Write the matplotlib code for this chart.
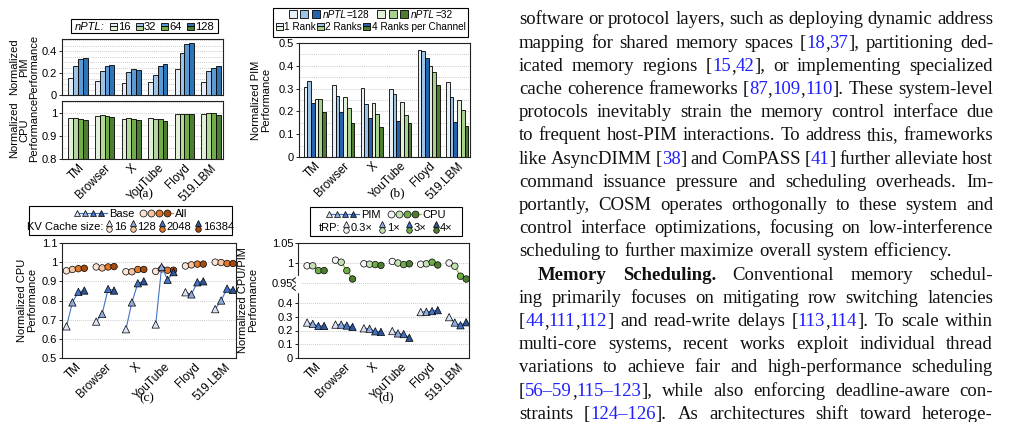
import matplotlib
matplotlib.use('Agg')
import matplotlib.pyplot as plt
import numpy as np
from matplotlib.patches import Rectangle
from matplotlib.lines import Line2D
from matplotlib.transforms import IdentityTransform
from matplotlib.ticker import FormatStrFormatter, MultipleLocator

W, H = 1027, 422
plt.rcParams['font.family'] = ['Liberation Sans', 'DejaVu Sans']
plt.rcParams['font.size'] = 8

# ---------------- data ----------------
workloads = ['TM', 'Browser', 'X', 'YouTube', 'Floyd', '519.LBM']
nptl_levels = ['16', '32', '64', '128']
# (a) PIM / CPU performance per nPTL
pim_nptl = [[0.157, 0.26, 0.33, 0.34],
            [0.126, 0.218, 0.26, 0.277],
            [0.108, 0.21, 0.234, 0.23],
            [0.117, 0.185, 0.26, 0.28],
            [0.234, 0.378, 0.46, 0.474],
            [0.117, 0.215, 0.25, 0.265]]
cpu_nptl = [[0.977, 0.98, 0.973, 0.97],
            [0.986, 0.99, 0.986, 0.983],
            [0.976, 0.977, 0.974, 0.97],
            [0.98, 0.976, 0.974, 0.964],
            [0.997, 0.997, 0.997, 0.997],
            [0.998, 1.0, 0.999, 0.994]]
# (b) PIM performance: nPTL=128 (1,2,4 ranks), nPTL=32 (1,2,4 ranks)
ranks = ['1 Rank', '2 Ranks', '4 Ranks per Channel']
pim_ranks = [[0.309, 0.335, 0.235, 0.253, 0.256, 0.199],
             [0.316, 0.269, 0.196, 0.262, 0.213, 0.151],
             [0.301, 0.232, 0.172, 0.238, 0.188, 0.132],
             [0.297, 0.275, 0.157, 0.243, 0.184, 0.149],
             [0.470, 0.463, 0.434, 0.401, 0.372, 0.316],
             [0.331, 0.262, 0.154, 0.249, 0.206, 0.137]]
# (c) CPU performance vs KV cache size
kv_sizes = ['16', '128', '2048', '16384']
cpu_base = [[0.665, 0.79, 0.845, 0.852],
            [0.69, 0.73, 0.86, 0.852],
            [0.65, 0.79, 0.89, 0.9],
            [0.675, 0.975, 0.908, 0.948],
            [0.843, 0.832, 0.895, 0.9],
            [0.755, 0.80, 0.862, 0.855]]
cpu_all = [[0.955, 0.962, 0.966, 0.968],
           [0.975, 0.97, 0.975, 0.977],
           [0.95, 0.95, 0.962, 0.962],
           [0.952, 0.965, 0.958, 0.958],
           [0.98, 0.986, 0.99, 0.99],
           [1.0, 0.998, 0.993, 0.993]]
# (d) CPU / PIM performance vs tRP
trp_levels = ['0.3\u00d7', '1\u00d7', '3\u00d7', '4\u00d7']
cpu_trp = [[0.993, 0.993, 0.981, 0.981],
           [1.007, 1.002, 0.981, 0.96],
           [0.998, 0.997, 0.996, 0.994],
           [1.004, 1.0, 0.996, 0.998],
           [0.997, 0.998, 1.002, 0.995],
           [1.0, 0.992, 0.967, 0.96]]
pim_trp = [[0.258, 0.248, 0.233, 0.233],
           [0.243, 0.243, 0.236, 0.226],
           [0.216, 0.213, 0.194, 0.19],
           [0.196, 0.179, 0.174, 0.147],
           [0.334, 0.336, 0.341, 0.348],
           [0.297, 0.258, 0.238, 0.26]]

# colours
blue4 = ['#e4edf7', '#9dc3e6', '#5b9bd5', '#2e75b6']
green4 = ['#e2f0d9', '#b4d79a', '#70ad47', '#4e7d31']
blue3 = ['#e8f0f8', '#9dc3e6', '#2563ad']
green3 = ['#e2f0d9', '#a9d18e', '#4e7d31']
tri_c = ['#dae3f3', '#8faadc', '#4472c4', '#2f5597']
orange_c = ['#fbe5d6', '#f8c4a0', '#e0782c', '#a64b0f']
cgreen_c = ['#f4f4f4', '#c5e0b4', '#70ad47', '#4e7d31']

fig = plt.figure(figsize=(W / 100, H / 100), dpi=100)
ID = IdentityTransform()
renderer = fig.canvas.get_renderer()
TICK_FS = 8
XTICK_FS = 8.5
LAB_FS = 8
LEG_FS = 8


def ax_px(x0, y0, x1, y1):
    return fig.add_axes([x0 / W, 1 - y1 / H, (x1 - x0) / W, (y1 - y0) / H])


def style(ax, step=None):
    for s in ax.spines.values():
        s.set_linewidth(0.8)
        s.set_color('#222222')
    ax.tick_params(axis='y', length=2, width=0.6, pad=1.5, labelsize=TICK_FS)
    ax.tick_params(axis='x', length=0, pad=2, labelsize=XTICK_FS)
    ax.yaxis.set_major_formatter(FormatStrFormatter('%g'))
    if step:
        ax.yaxis.set_minor_locator(MultipleLocator(step))
        ax.tick_params(axis='y', which='minor', length=0)
    ax.grid(axis='y', which='both', color='#b8b8b8', lw=0.6, ls=(0, (1, 1.5)))
    ax.set_axisbelow(True)


def xlabels(ax, show=True):
    ax.set_xticks(np.arange(len(workloads)))
    if show:
        ax.set_xticklabels(workloads, rotation=45, ha='right', rotation_mode='anchor')
    else:
        ax.set_xticklabels([])


def ylab(x, y, s, ls=1.05):
    fig.text(x / W, 1 - y / H, s, rotation=90, ha='center', va='center',
             fontsize=LAB_FS, linespacing=ls, multialignment='center')


def grouped_bars(ax, vals, colors, width):
    vals = np.array(vals)
    n = vals.shape[1]
    x = np.arange(vals.shape[0])
    for j in range(n):
        ax.bar(x + (j - (n - 1) / 2) * width, vals[:, j], width, color=colors[j],
               edgecolor='black', linewidth=0.6, zorder=2)


# ---------------- (a) ----------------
ax_a1 = ax_px(62, 39, 223, 95)
grouped_bars(ax_a1, pim_nptl, blue4, 0.18)
ax_a1.set_ylim(0, 0.51)
ax_a1.set_yticks([0, 0.2, 0.4])
style(ax_a1, 0.05)
xlabels(ax_a1, False)
ax_a1.set_xlim(-0.6, 5.45)

ax_a2 = ax_px(62, 101, 223, 159)
grouped_bars(ax_a2, cpu_nptl, green4, 0.18)
ax_a2.set_ylim(0.8, 1.053)
ax_a2.set_yticks([0.8, 0.9, 1.0])
style(ax_a2, 0.05)
xlabels(ax_a2)
ax_a2.set_xlim(-0.6, 5.45)
ylab(24, 67, 'Normalized\nPIM\nPerformance', 1.0)
ylab(24, 130, 'Normalized\nCPU\nPerformance', 1.0)

# ---------------- (b) ----------------
ax_b = ax_px(299, 43, 470, 157)
grouped_bars(ax_b, pim_ranks, blue3 + green3, 0.13)
ax_b.set_ylim(0, 0.5)
ax_b.set_yticks(np.arange(0, 0.51, 0.1))
style(ax_b, 0.05)
xlabels(ax_b)
ax_b.set_xlim(-0.55, 5.45)
ylab(261, 100, 'Normalized PIM\nPerformance')

# ---------------- (c) ----------------
ax_c = ax_px(62, 243, 236, 358)
offs = np.array([-0.3, -0.1, 0.1, 0.3])
for i in range(len(workloads)):
    ax_c.plot(i + offs, cpu_all[i], color='#ed7d31', lw=0.8, zorder=2)
    ax_c.scatter(i + offs, cpu_all[i], c=orange_c, marker='o', s=22,
                 edgecolors='black', linewidths=0.5, zorder=3)
for i in range(len(workloads)):
    ax_c.plot(i + offs, cpu_base[i], color='#4472c4', lw=0.8, zorder=4)
    ax_c.scatter(i + offs, cpu_base[i], c=tri_c, marker='^', s=28,
                 edgecolors='black', linewidths=0.5, zorder=5)
ax_c.set_ylim(0.5, 1.1)
ax_c.set_yticks(np.arange(0.5, 1.11, 0.1))
style(ax_c)
xlabels(ax_c)
ax_c.set_xlim(-0.45, 5.4)
ylab(27, 300, 'Normalized CPU\nPerformance')

# ---------------- (d) broken axis ----------------
ax_d1 = ax_px(298, 243, 469, 292)
ax_d2 = ax_px(298, 292, 469, 358)
for i in range(len(workloads)):
    ax_d1.plot(i + offs, cpu_trp[i], color='#8cc152', lw=1.0, zorder=2)
    ax_d1.scatter(i + offs, cpu_trp[i], c=cgreen_c, marker='o', s=22,
                  edgecolors='black', linewidths=0.5, zorder=3)
    ax_d2.plot(i + offs, pim_trp[i], color='#4472c4', lw=0.8, zorder=2)
    ax_d2.scatter(i + offs, pim_trp[i], c=tri_c, marker='^', s=28,
                  edgecolors='black', linewidths=0.5, zorder=3)
ax_d1.set_ylim(0.9275, 1.05)
ax_d1.set_yticks([0.95, 1.0, 1.05])
ax_d2.set_ylim(0, 0.48)
ax_d2.set_yticks([0, 0.1, 0.2, 0.3, 0.4])
style(ax_d1)
style(ax_d2)
ax_d1.spines['bottom'].set_visible(False)
ax_d2.spines['top'].set_visible(False)
xlabels(ax_d1, False)
xlabels(ax_d2)
for a in (ax_d1, ax_d2):
    a.set_xlim(-0.62, 5.4)
ax_d1.tick_params(axis='x', length=0)
# zigzag break on left spine
zz = Line2D([0, -0.035, 0.0, -0.035, 0.0], [1.0, 1.06, 1.12, 1.18, 1.24],
            transform=ax_d2.transAxes, color='#222222', lw=0.8, clip_on=False)
ax_d2.add_line(zz)
ax_d2.add_patch(Rectangle((-0.01, 1.0), 0.02, 0.24, transform=ax_d2.transAxes,
                          color='white', clip_on=False, zorder=5))
ylab(248, 300, 'Normalized CPU/PIM\nPerformance')

# sub-captions
for x, y, s in [(146, 194, '(a)'), (397, 193, '(b)'), (147, 398, '(c)'), (386, 397, '(d)')]:
    fig.text(x / W, 1 - y / H, s, ha='center', va='center', fontsize=9.5,
             family=['Liberation Serif', 'DejaVu Serif'])


# ---------------- legends built by hand ----------------
def text_w(s, **kw):
    t = fig.text(0, 0, s, transform=ID, **kw)
    w = t.get_window_extent(renderer).width
    t.remove()
    return w


def legend_box(box, rows, fs=LEG_FS):
    x0, y0, x1, y1 = box
    fig.add_artist(Rectangle((x0, H - y1), x1 - x0, y1 - y0, transform=ID, fill=False,
                             lw=0.8, ec='black'))
    for yc, items in rows:
        widths = []
        for it in items:
            if it[0] == 't':
                widths.append(text_w(it[1], fontsize=fs, **it[2]))
            else:
                widths.append(it[1])
        x = (x0 + x1) / 2 - sum(widths) / 2
        for it, w in zip(items, widths):
            if it[0] == 't':
                fig.text(x, H - yc - 0.36 * fs * 1.39, it[1], transform=ID, fontsize=fs,
                         va='baseline', ha='left', **it[2])
            elif it[0] == 'g':
                it[2](x, H - yc)
            x += w


def split_sq(top, bot, s=7):
    def draw(x, y):
        fig.add_artist(Rectangle((x, y), s, s / 2, transform=ID, fc=top, ec='black', lw=0.6))
        fig.add_artist(Rectangle((x, y - s / 2), s, s / 2, transform=ID, fc=bot, ec='black', lw=0.6))
    return ('g', s + 1.2, draw)


def three_sq(colors, s=8, gap=3.5):
    def draw(x, y):
        for k, c in enumerate(colors):
            fig.add_artist(Rectangle((x + k * (s + gap), y - s / 2), s, s, transform=ID,
                                     fc=c, ec='black', lw=0.6))
    return ('g', 3 * s + 2 * gap + 3, draw)


def marker_line(colors, marker, lcolor, step=8.0, ms=5):
    def draw(x, y):
        xs = [x + 3 + k * step for k in range(4)]
        fig.add_artist(Line2D([xs[0], xs[-1] + 6], [y, y], transform=ID, color=lcolor, lw=0.9))
        for xx, c in zip(xs, colors):
            fig.add_artist(Line2D([xx], [y], transform=ID, marker=marker, ms=ms, mfc=c,
                                  mec='black', mew=0.5, ls='none'))
    return ('g', 3 * step + 11, draw)


def stack(tc, cc):
    def draw(x, y):
        fig.add_artist(Line2D([x + 3.5], [y + 3], transform=ID, marker='^', ms=4.2, mfc=tc,
                              mec='black', mew=0.5, ls='none'))
        fig.add_artist(Line2D([x + 3.5], [y - 3], transform=ID, marker='o', ms=4.0, mfc=cc,
                              mec='black', mew=0.5, ls='none'))
    return ('g', 8, draw)


def gap(w):
    return ('s', w, None)


it_kw = {'style': 'italic'}
row_a = [('t', 'nPTL:', it_kw), gap(5)]
for k, lv in enumerate(nptl_levels):
    row_a += [split_sq(blue4[k], green4[k]), ('t', lv, {}), gap(5)]
legend_box((71, 19, 218, 33), [(26, row_a[:-1])])

row_b1 = [three_sq(blue3), ('t', 'nPTL', it_kw), ('t', '=128', {}), gap(8),
          three_sq(green3), ('t', 'nPTL', it_kw), ('t', '=32', {})]
row_b2 = []
for k, r in enumerate(ranks):
    row_b2 += [split_sq(blue3[k], green3[k]), ('t', r, {}), gap(1.5)]
legend_box((273, 8, 468, 37), [(14, row_b1), (26, row_b2[:-1])], fs=7.2)

row_c1 = [marker_line(tri_c, '^', '#4472c4'), ('t', 'Base', {}), gap(6),
          marker_line(orange_c, 'o', '#ed7d31'), ('t', 'All', {})]
row_c2 = [('t', 'KV Cache size:', {}), gap(2)]
for k, s in enumerate(kv_sizes):
    row_c2 += [stack(tri_c[k], orange_c[k]), ('t', s, {}), gap(3)]
legend_box((29, 206, 232, 235), [(213, row_c1), (226, row_c2[:-1])])

row_d1 = [marker_line(tri_c, '^', '#4472c4'), ('t', 'PIM', {}), gap(7),
          marker_line(cgreen_c, 'o', '#8cc152'), ('t', 'CPU', {})]
row_d2 = [('t', 'tRP:', {}), gap(2)]
for k, s in enumerate(trp_levels):
    row_d2 += [stack(tri_c[k], cgreen_c[k]), ('t', s, {}), gap(6)]
legend_box((310, 207, 462, 236), [(214, row_d1), (227, row_d2[:-1])])

# ---------------- body text column ----------------
body = [
    ('j', 'software or protocol layers, such as deploying dynamic address'),
    ('j', 'mapping for shared memory spaces [{18},{37}], partitioning ded-'),
    ('j', 'icated memory regions [{15},{42}], or implementing specialized'),
    ('j', 'cache coherence frameworks [{87},{109},{110}]. These system-level'),
    ('j', 'protocols inevitably strain the memory control interface due'),
    ('j', 'to frequent host-PIM interactions. To address this, frameworks'),
    ('j', 'like AsyncDIMM [{38}] and ComPASS [{41}] further alleviate host'),
    ('j', 'command issuance pressure and scheduling overheads. Im-'),
    ('j', 'portantly, COSM operates orthogonally to these system and'),
    ('j', 'control interface optimizations, focusing on low-interference'),
    ('l', 'scheduling to further maximize overall system efficiency.'),
    ('i', '*Memory *Scheduling. Conventional memory schedul-'),
    ('j', 'ing primarily focuses on mitigating row switching latencies'),
    ('j', '[{44},{111},{112}] and read-write delays [{113},{114}]. To scale within'),
    ('j', 'multi-core systems, recent works exploit individual thread'),
    ('j', 'variations to achieve fair and high-performance scheduling'),
    ('j', '[{56\u201359},{115\u2013123}], while also enforcing deadline-aware con-'),
    ('j', 'straints [{124\u2013126}]. As architectures shift toward heteroge-'),
]
BODY_FS = 13.5
serif = ['Liberation Serif', 'DejaVu Serif']
LINK = '#1f1fff'
X_L, X_R = 519, 993


def pieces(word):
    bold = word.startswith('*')
    if bold:
        word = word[1:]
    out = []
    buf, blue = '', False
    for ch in word:
        if ch == '{':
            if buf:
                out.append((buf, blue))
            buf, blue = '', True
        elif ch == '}':
            out.append((buf, blue))
            buf, blue = '', False
        else:
            buf += ch
    if buf:
        out.append((buf, blue))
    return [(s, b, bold) for s, b in out]


space_w = text_w('a a', fontsize=BODY_FS, family=serif) - text_w('aa', fontsize=BODY_FS, family=serif)
for i, (mode, line) in enumerate(body):
    base = H - (24.5 + 23.2 * i)
    words = [pieces(w) for w in line.split(' ')]
    ww = []
    for wp in words:
        ww.append([text_w(s, fontsize=BODY_FS, family=serif,
                          weight='bold' if bd else 'normal') for s, b, bd in wp])
    x_start = X_L + (19 if mode == 'i' else 0)
    total = sum(sum(w) for w in ww)
    if mode == 'l':
        g = space_w
    else:
        g = (X_R - x_start - total) / (len(words) - 1)
    x = x_start
    for wp, wl in zip(words, ww):
        for (s, b, bd), w in zip(wp, wl):
            fig.text(x, base, s, transform=ID, fontsize=BODY_FS, family=serif,
                     color=LINK if b else '#111111', weight='bold' if bd else 'normal',
                     va='baseline', ha='left')
            x += w
        x += g

fig.savefig('out.png', dpi=100)
